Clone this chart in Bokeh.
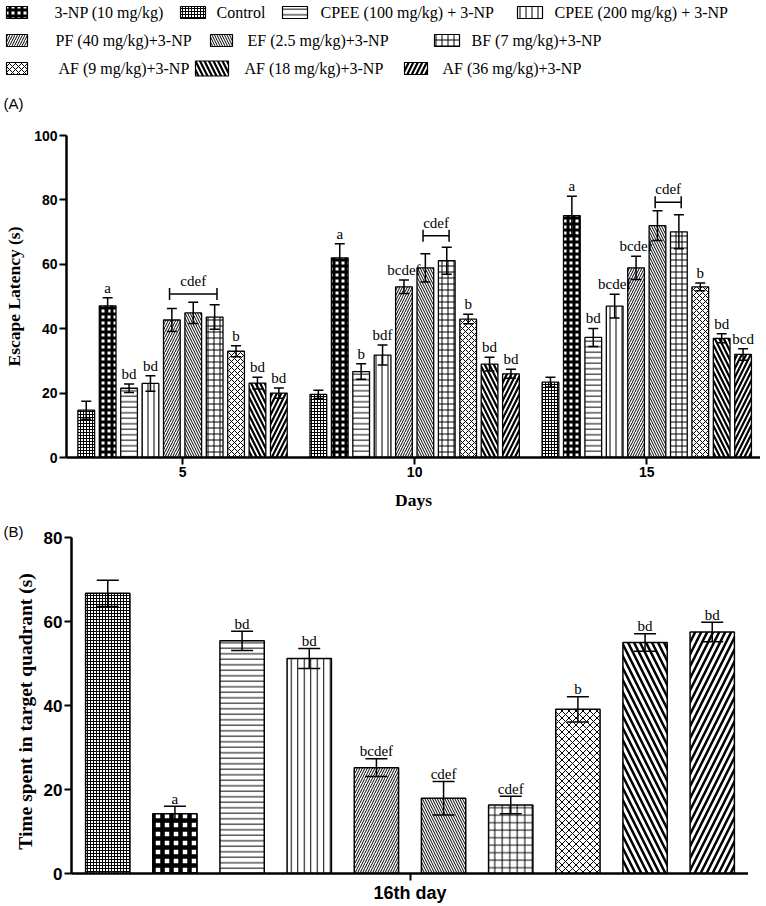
import math
from bokeh.plotting import figure
from bokeh.models import (Range1d, ColumnDataSource, Whisker, TeeHead, FixedTicker)
from bokeh.layouts import column, row
from bokeh.embed import file_html
from bokeh.resources import INLINE
from bokeh.core.properties import value

# ---------------- data ----------------
groups = ["Control", "3-NP (10 mg/kg)", "CPEE (100 mg/kg) + 3-NP", "CPEE (200 mg/kg) + 3-NP",
          "PF (40 mg/kg)+3-NP", "EF (2.5 mg/kg)+3-NP", "BF (7 mg/kg)+3-NP",
          "AF (9 mg/kg)+3-NP", "AF (18 mg/kg)+3-NP", "AF (36 mg/kg)+3-NP"]
days = ["5", "10", "15"]

latency_day5 = [14.7, 47.1, 21.5, 23.0, 42.7, 44.9, 43.6, 33.0, 23.1, 20.0]
latency_day5_err = [2.8, 2.5, 1.3, 2.4, 3.6, 3.3, 3.8, 1.7, 1.8, 1.6]
latency_day10 = [19.6, 62.0, 26.7, 31.8, 53.0, 58.9, 61.1, 43.0, 29.0, 26.0]
latency_day10_err = [1.3, 4.4, 2.4, 3.1, 2.1, 4.4, 4.2, 1.5, 2.1, 1.4]
latency_day15 = [23.4, 75.1, 37.3, 47.0, 58.9, 72.0, 70.1, 53.0, 37.0, 32.0]
latency_day15_err = [1.5, 6.0, 2.8, 3.7, 3.6, 4.6, 5.3, 1.2, 1.4, 1.8]

letters_day5 = ["", "a", "bd", "bd", "", "", "", "b", "bd", "bd"]
letters_day10 = ["", "a", "b", "bdf", "bcdef", "", "", "b", "bd", "bd"]
letters_day15 = ["", "a", "bd", "bcdef", "bcdef", "", "", "b", "bd", "bcd"]

bracket_label = "cdef"
bracket_from = [4, 5, 5]
bracket_to = [6, 6, 6]
bracket_y = [50.8, 68.9, 79.3]

quadrant_time = [66.7, 14.2, 55.4, 51.2, 25.2, 17.9, 16.3, 39.1, 55.0, 57.5]
quadrant_err = [3.1, 1.8, 2.3, 2.4, 2.1, 4.0, 2.1, 3.0, 2.1, 2.3]
letters_quadrant = ["", "a", "bd", "bd", "bcdef", "cdef", "cdef", "b", "bd", "bd"]

legend_order = [["3-NP (10 mg/kg)", "Control", "CPEE (100 mg/kg) + 3-NP", "CPEE (200 mg/kg) + 3-NP"],
                ["PF (40 mg/kg)+3-NP", "EF (2.5 mg/kg)+3-NP", "BF (7 mg/kg)+3-NP"],
                ["AF (9 mg/kg)+3-NP", "AF (18 mg/kg)+3-NP", "AF (36 mg/kg)+3-NP"]]

title_A = "Escape Latency (s)"
title_B = "Time spent in target quadrant (s)"

# ---------------- styles ----------------
SERIF = "Liberation Serif"
SANS = "Liberation Sans"
BLACK = "#000000"

# (pattern, scale, weight) for panel A / legend and panel B
hatch_A = [("cross", 3, 1), ("cross", 6, 3), ("horizontal_line", 5.5, 1),
           ("vertical_line", 6, 1), ("right_diagonal_line", 5, 1), ("left_diagonal_line", 5, 1),
           ("cross", 6, 1), ("diagonal_cross", 6, 1), ("left_diagonal_line", 9, 2.2),
           ("right_diagonal_line", 9, 2.2)]
hatch_B = [("cross", 3, 1), ("cross", 9, 4.5), ("horizontal_line", 5.5, 1),
           ("vertical_line", 6.5, 1), ("right_diagonal_line", 5, 1), ("left_diagonal_line", 5, 1),
           ("cross", 7.5, 1), ("diagonal_cross", 7, 1), ("left_diagonal_line", 12, 2.5),
           ("right_diagonal_line", 12, 2.5)]


def hatch_kw(pattern, scale, weight):
    return dict(hatch_pattern=pattern, hatch_scale=scale, hatch_weight=weight, hatch_color=BLACK)


def bare(p):
    p.outline_line_color = None
    p.xgrid.visible = False
    p.ygrid.visible = False


def style_axes(p, tick_font, label_font):
    bare(p)
    for ax in (p.xaxis[0], p.yaxis[0]):
        ax.axis_line_width = 2.5
        ax.axis_line_color = BLACK
        ax.major_tick_line_width = 2
        ax.major_tick_line_color = BLACK
        ax.major_tick_out = 7
        ax.major_tick_in = 0
        ax.minor_tick_line_color = None
        ax.major_label_text_font = SANS
        ax.major_label_text_font_style = "bold"
        ax.major_label_text_font_size = tick_font
        ax.major_label_text_color = BLACK
        ax.major_label_standoff = 2
        ax.axis_label_text_font = SERIF
        ax.axis_label_text_font_style = "bold"
        ax.axis_label_text_font_size = label_font
        ax.axis_label_text_color = BLACK


# ---------------- legend figure (also holds the "(A)" tag) ----------------
LW, LH = 766, 112
pL = figure(frame_width=LW, frame_height=LH, x_range=Range1d(0, LW), y_range=Range1d(LH, 0),
            x_axis_type=None, y_axis_type=None, output_backend="svg", toolbar_location=None,
            min_border=0, frame_align=False)
bare(pL)

row_y = [12, 40, 68]
# (swatch left, swatch right, text x) per legend entry
legend_pos = [[(6, 27, 54), (180, 205, 216), (282, 307, 320), (517, 542, 554)],
              [(6, 27, 55), (210, 232, 247), (434, 459, 471)],
              [(6, 27, 58), (195, 228, 244), (404, 427, 442)]]
for r, names in enumerate(legend_order):
    for j, name in enumerate(names):
        l, rr, tx = legend_pos[r][j]
        gi = groups.index(name)
        hh = 6 if gi != 8 else 7.5
        pL.quad(left=[l], right=[rr], top=[row_y[r] - hh], bottom=[row_y[r] + hh],
                fill_color="white", line_color=BLACK, line_width=1.2, **hatch_kw(*hatch_A[gi]))
        pL.text(x=[tx], y=[row_y[r]], text=[name], text_font=value(SERIF), text_font_size="16px",
                text_baseline="middle", text_align="left", text_color=BLACK)
pL.text(x=[3], y=[103], text=["(A)"], text_font=value(SANS), text_font_size="15px",
        text_baseline="middle", text_align="left", text_color=BLACK)

# ---------------- panel A ----------------
day_pos = [1, 2, 3]
pitch = 0.0922
bw = 0.072
lat = [latency_day5, latency_day10, latency_day15]
lat_err = [latency_day5_err, latency_day10_err, latency_day15_err]
lat_letters = [letters_day5, letters_day10, letters_day15]

pA = figure(frame_width=694, frame_height=322, x_range=Range1d(0.5, 3.49), y_range=Range1d(0, 100),
            output_backend="svg", toolbar_location=None, frame_align=False,
            min_border_left=66, min_border_right=0, min_border_top=23, min_border_bottom=61)

for i, g in enumerate(groups):
    xs = [d + (i - 4.5) * pitch for d in day_pos]
    tops = [lat[k][i] for k in range(3)]
    pA.vbar(x=xs, top=tops, bottom=0, width=bw, fill_color="white", line_color=BLACK,
            line_width=1.3, **hatch_kw(*hatch_A[i]))

wx, wu, wl, ly, lt = [], [], [], [], []
for k in range(3):
    for i in range(len(groups)):
        wx.append(day_pos[k] + (i - 4.5) * pitch)
        wu.append(lat[k][i] + lat_err[k][i])
        wl.append(lat[k][i] - lat_err[k][i])
        ly.append(lat[k][i] + lat_err[k][i] + 3.1)
        lt.append(lat_letters[k][i])
srcA = ColumnDataSource(dict(x=wx, upper=wu, lower=wl, ly=ly, text=lt))
pA.add_layout(Whisker(source=srcA, base="x", upper="upper", lower="lower", dimension="height",
                      line_width=1.5, line_color=BLACK, level="annotation",
                      upper_head=TeeHead(size=10, line_width=1.5, line_color=BLACK),
                      lower_head=TeeHead(size=10, line_width=1.5, line_color=BLACK)))
pA.text(x="x", y="ly", text="text", source=srcA, text_align="center", text_baseline="alphabetic",
        text_font=value(SERIF), text_font_size="15px", text_color=BLACK)

br_lo = [day_pos[k] + (bracket_from[k] - 4.5) * pitch - 0.01 for k in range(3)]
br_hi = [day_pos[k] + (bracket_to[k] - 4.5) * pitch + 0.01 for k in range(3)]
srcBr = ColumnDataSource(dict(y=bracket_y, lo=br_lo, hi=br_hi,
                              xc=[(a + b) / 2 for a, b in zip(br_lo, br_hi)],
                              ty=[y + 4.0 for y in bracket_y], text=[bracket_label] * 3))
pA.add_layout(Whisker(source=srcBr, base="y", lower="lo", upper="hi", dimension="width",
                      line_width=1.5, line_color=BLACK, level="annotation",
                      upper_head=TeeHead(size=12, line_width=1.5, line_color=BLACK),
                      lower_head=TeeHead(size=12, line_width=1.5, line_color=BLACK)))
pA.text(x="xc", y="ty", text="text", source=srcBr, text_align="center", text_baseline="alphabetic",
        text_font=value(SERIF), text_font_size="15px", text_color=BLACK)

style_axes(pA, "14px", "17.5px")
pA.xaxis.ticker = FixedTicker(ticks=day_pos)
pA.xaxis.major_label_overrides = {d: s for d, s in zip(day_pos, days)}
pA.xaxis.axis_label = "Days"
pA.xaxis.axis_label_standoff = 10
pA.yaxis.ticker = FixedTicker(ticks=[0, 20, 40, 60, 80, 100])
pA.yaxis.axis_label = title_A
pA.yaxis.axis_label_standoff = 7

# ---------------- panel B ----------------
BH_TOP, BH_FRAME, BH_BOT = 19, 336, 31
BH = BH_TOP + BH_FRAME + BH_BOT

# narrow strip holding "(B)" and the rotated y-axis title
pBL = figure(frame_width=40, frame_height=BH, x_range=Range1d(0, 40), y_range=Range1d(0, BH),
             x_axis_type=None, y_axis_type=None, output_backend="svg", toolbar_location=None,
             min_border=0, frame_align=False)
bare(pBL)
pBL.text(x=[3], y=[BH - 13], text=["(B)"], text_font=value(SANS), text_font_size="15px",
         text_baseline="middle", text_align="left", text_color=BLACK)
pBL.text(x=[25], y=[BH - 193], text=[title_B], angle=math.pi / 2, text_font=value(SERIF),
         text_font_style="bold", text_font_size="19.5px", text_baseline="middle",
         text_align="center", text_color=BLACK)

xb = list(range(len(groups)))
pB = figure(frame_width=677, frame_height=BH_FRAME, x_range=Range1d(-0.54, 9.54), y_range=Range1d(0, 80),
            output_backend="svg", toolbar_location=None, frame_align=False,
            min_border_left=31, min_border_right=0, min_border_top=BH_TOP, min_border_bottom=BH_BOT)
for i, g in enumerate(groups):
    pB.vbar(x=[xb[i]], top=[quadrant_time[i]], bottom=0, width=0.66, fill_color="white",
            line_color=BLACK, line_width=1.5, **hatch_kw(*hatch_B[i]))
srcB = ColumnDataSource(dict(x=xb,
                             upper=[v + e for v, e in zip(quadrant_time, quadrant_err)],
                             lower=[v - e for v, e in zip(quadrant_time, quadrant_err)],
                             ly=[v + e + 1.8 for v, e in zip(quadrant_time, quadrant_err)],
                             text=letters_quadrant))
pB.add_layout(Whisker(source=srcB, base="x", upper="upper", lower="lower", dimension="height",
                      line_width=1.5, line_color=BLACK, level="annotation",
                      upper_head=TeeHead(size=22, line_width=1.5, line_color=BLACK),
                      lower_head=TeeHead(size=22, line_width=1.5, line_color=BLACK)))
pB.text(x="x", y="ly", text="text", source=srcB, text_align="center", text_baseline="alphabetic",
        text_font=value(SERIF), text_font_size="15px", text_color=BLACK)

style_axes(pB, "17px", "18px")
pB.xaxis.ticker = FixedTicker(ticks=[4.5])
pB.xaxis.major_label_overrides = {4.5: "16th day"}
pB.xaxis.major_label_text_font_size = "18px"
pB.yaxis.ticker = FixedTicker(ticks=[0, 20, 40, 60, 80])

layout = column(pL, pA, row(pBL, pB, spacing=0), spacing=0)
open("out.html", "w").write(file_html(layout, INLINE))
